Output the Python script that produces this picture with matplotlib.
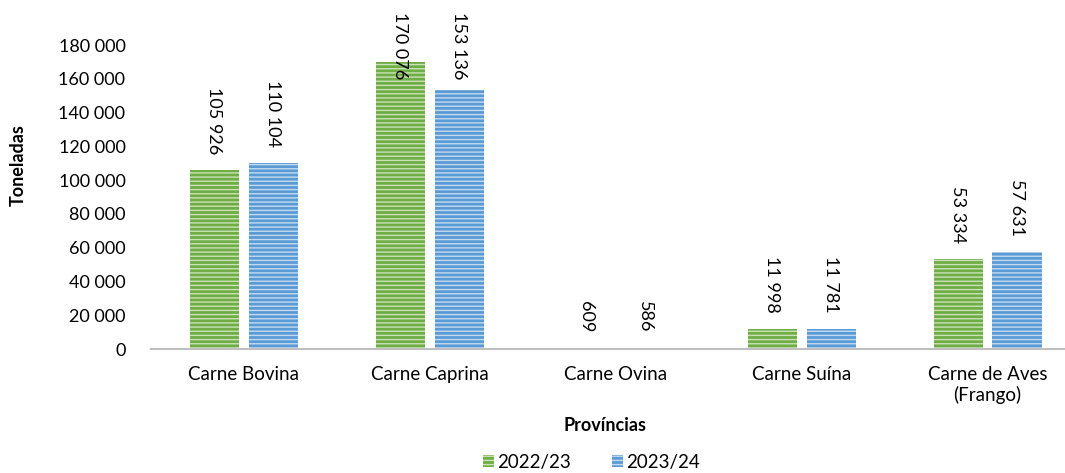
import matplotlib
matplotlib.use("Agg")
import matplotlib.pyplot as plt
import numpy as np

categories = ["Carne Bovina", "Carne Caprina", "Carne Ovina", "Carne Suína", "Carne de Aves\n(Frango)"]
series_names = ["2022/23", "2023/24"]
values_2022 = [105926, 170076, 609, 11998, 53334]
values_2023 = [110104, 153136, 586, 11781, 57631]
yticks = [0, 20000, 40000, 60000, 80000, 100000, 120000, 140000, 160000, 180000]

plt.rcParams['font.family'] = ['Lato', 'DejaVu Sans']
plt.rcParams['hatch.linewidth'] = 1.0

W, H = 1065, 473
fig = plt.figure(figsize=(W/100, H/100), dpi=100)
left, right, bottom, top = 150.5, 1080.5, 349, 45
ax = fig.add_axes([left/W, 1-bottom/H, (right-left)/W, (bottom-top)/H])

def fmt(v):
    return f"{v:,}".replace(",", " ")

x = np.arange(len(categories))
bw = 49/186
gap = 10/186
face = ["#70AD47", "#5B9BD5"]
hatchc = ["#C9E3B6", "#C2DAF0"]
fs = 13

ax.set_xlim(-0.5, len(categories)-0.5)
ax.set_ylim(0, 180000)
px = 180000/(bottom-top)  # data units per pixel
top_limit = (bottom-12)*px

for i, (vals, name) in enumerate(zip([values_2022, values_2023], series_names)):
    offs = (-1 if i == 0 else 1)*(bw/2 + gap/2)
    ax.bar(x+offs, vals, width=bw, color=face[i], edgecolor=hatchc[i], linewidth=0,
           hatch='----', label=name)
    for xi, v in zip(x, vals):
        y = v + 16*px
        if y + 68*px > top_limit:
            ax.text(xi+offs, top_limit, fmt(v), rotation=270, ha='center', va='top',
                    fontsize=fs, clip_on=False)
        else:
            ax.text(xi+offs, y, fmt(v), rotation=270, ha='center', va='bottom',
                    fontsize=fs, clip_on=False)

ax.set_yticks(yticks)
ax.set_yticklabels([fmt(t) for t in yticks], fontsize=fs)
ax.set_xticks(x)
ax.set_xticklabels(categories, fontsize=13.5, linespacing=1.25)
ax.tick_params(axis='y', length=0, pad=18)
ax.tick_params(axis='x', length=0, pad=12)
for s in ['left', 'right', 'top']:
    ax.spines[s].set_visible(False)
ax.spines['bottom'].set_color('#BFBFBF')
ax.spines['bottom'].set_linewidth(1.5)

fig.text(605/W, 1-425/H, "Províncias", ha='center', va='center', fontsize=fs, fontweight='bold')
fig.text(18/W, 1-165/H, "Toneladas", ha='center', va='center', rotation=90, fontsize=fs, fontweight='bold')

leg = fig.legend(loc='center', bbox_to_anchor=(591/W, 1-462/H), ncol=2, frameon=False,
                 fontsize=13.5, handlelength=0.6, handleheight=0.6, handletextpad=0.15,
                 columnspacing=2.2)

fig.savefig("out.png", dpi=100)
